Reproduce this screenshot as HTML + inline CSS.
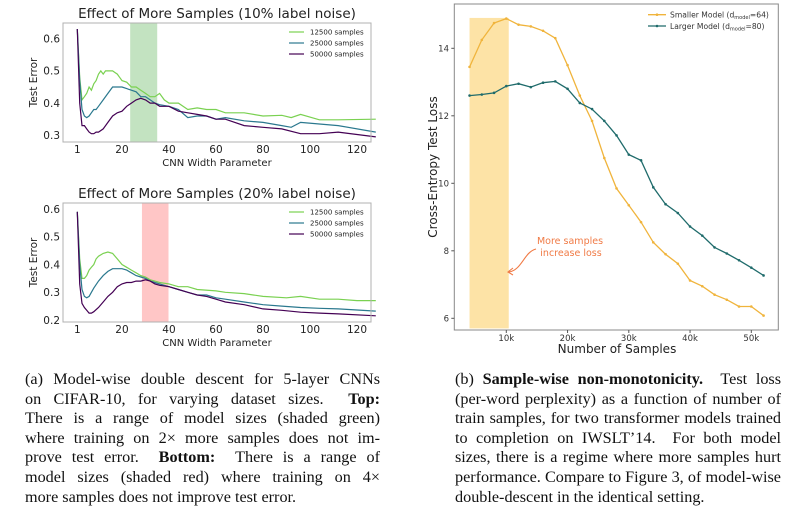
<!DOCTYPE html>
<html><head><meta charset="utf-8">
<style>
body{margin:0;background:#fff;width:796px;height:514px;overflow:hidden;position:relative}
svg{position:absolute;left:0;top:0}
.cap{position:absolute;font-family:"Liberation Serif",serif;font-size:16.2px;line-height:19.6px;text-align:justify;color:#111}
.cap span.l{display:block;text-align-last:justify;white-space:nowrap}
.cap span.e{display:block;white-space:nowrap}
</style></head><body>
<svg id="fig" width="796" height="514" font-family="DejaVu Sans, Liberation Sans, sans-serif"></svg>
<div class="cap" style="left:25px;top:370px;width:355px">
<span class="l">(a) Model-wise double descent for 5-layer CNNs</span>
<span class="l">on CIFAR-10, for varying dataset sizes. &nbsp;<b>Top:</b></span>
<span class="l">There is a range of model sizes (shaded green)</span>
<span class="l">where training on 2× more samples does not im-</span>
<span class="l">prove test error. &nbsp;<b>Bottom:</b> &nbsp;There is a range of</span>
<span class="l">model sizes (shaded red) where training on 4×</span>
<span class="e">more samples does not improve test error.</span>
</div>
<div class="cap" style="left:455px;top:370px;width:326px">
<span class="l">(b) <b>Sample-wise non-monotonicity.</b> &nbsp;Test loss</span>
<span class="l">(per-word perplexity) as a function of number of</span>
<span class="l">train samples, for two transformer models trained</span>
<span class="l">to completion on IWSLT’14. &nbsp;For both model</span>
<span class="l">sizes, there is a regime where more samples hurt</span>
<span class="l">performance. Compare to Figure 3, of model-wise</span>
<span class="e">double-descent in the identical setting.</span>
</div>
<script>
// ---- data: top CNN chart (10% noise)
const topGreenX=[1,2,3,4,5,6,7,8,9,10,11,12,13,14,15,16,17,18,19,20,22,24,26,28,30,32,34,36,38,40,44,48,52,56,60,64,72,80,88,92,96,104,112,128];
const topGreenY=[0.63,0.48,0.41,0.42,0.43,0.45,0.44,0.46,0.47,0.49,0.50,0.49,0.50,0.50,0.50,0.50,0.495,0.49,0.48,0.47,0.465,0.45,0.45,0.44,0.43,0.42,0.42,0.43,0.41,0.40,0.40,0.38,0.385,0.38,0.38,0.37,0.37,0.36,0.362,0.355,0.365,0.348,0.348,0.35];
const topBlueX=[1,2,3,4,5,6,7,8,9,10,12,14,16,18,20,22,24,26,28,30,32,34,36,40,44,48,52,56,60,64,72,80,88,92,96,112,128];
const topBlueY=[0.63,0.47,0.38,0.36,0.355,0.36,0.37,0.38,0.38,0.39,0.41,0.43,0.45,0.45,0.45,0.445,0.44,0.435,0.42,0.42,0.41,0.40,0.395,0.39,0.38,0.355,0.36,0.36,0.35,0.355,0.345,0.34,0.33,0.325,0.34,0.33,0.31];
const topPurpleX=[1,2,3,4,5,6,7,8,9,10,12,14,16,18,20,22,24,26,28,30,32,34,36,40,44,48,52,56,60,64,72,80,88,96,104,112,128];
const topPurpleY=[0.63,0.40,0.33,0.33,0.32,0.31,0.305,0.305,0.31,0.31,0.32,0.34,0.36,0.37,0.375,0.39,0.40,0.41,0.415,0.41,0.40,0.40,0.39,0.39,0.375,0.37,0.365,0.36,0.35,0.35,0.33,0.325,0.32,0.305,0.305,0.31,0.295];
// ---- data: bottom CNN chart (20% noise)
const botGreenX=[1,2,3,4,5,6,7,8,9,10,12,14,16,18,20,22,24,26,28,30,32,34,36,40,44,48,52,60,64,72,80,90,96,104,112,120,128];
const botGreenY=[0.59,0.42,0.35,0.35,0.36,0.38,0.39,0.40,0.42,0.43,0.44,0.445,0.44,0.42,0.40,0.39,0.38,0.37,0.36,0.355,0.345,0.34,0.335,0.33,0.32,0.32,0.31,0.305,0.30,0.295,0.285,0.28,0.285,0.275,0.275,0.27,0.27];
const botBlueX=[1,2,3,4,5,6,7,8,10,12,14,16,18,20,22,24,26,28,30,32,34,36,40,44,48,52,56,60,64,72,80,88,96,104,112,128];
const botBlueY=[0.59,0.40,0.31,0.285,0.28,0.285,0.30,0.315,0.34,0.36,0.375,0.385,0.385,0.385,0.38,0.37,0.36,0.355,0.35,0.34,0.335,0.33,0.32,0.31,0.30,0.29,0.29,0.28,0.275,0.265,0.255,0.25,0.245,0.242,0.24,0.232];
const botPurpleX=[1,2,3,4,5,6,7,8,10,12,14,16,18,20,22,24,26,28,30,32,34,36,40,44,48,52,56,60,64,72,80,88,96,104,112,128];
const botPurpleY=[0.59,0.33,0.26,0.245,0.235,0.225,0.225,0.23,0.245,0.265,0.285,0.30,0.32,0.33,0.335,0.335,0.34,0.34,0.345,0.34,0.33,0.325,0.32,0.31,0.30,0.29,0.285,0.275,0.265,0.255,0.24,0.235,0.228,0.225,0.222,0.215];
const cnnXTicks=[1,20,40,60,80,100,120];
const topYTicks=[0.3,0.4,0.5,0.6];
const botYTicks=[0.2,0.3,0.4,0.5,0.6];
const legendLabels=["12500 samples","25000 samples","50000 samples"];
const topBand=[23.5,35];
const botBand=[28.5,39.8];
// ---- data: right chart
const samplesK=[4,6,8,10,12,14,16,18,20,22,24,26,28,30,32,34,36,38,40,42,44,46,48,50,52];
const smallerLoss=[13.45,14.25,14.75,14.88,14.7,14.65,14.52,14.3,13.5,12.6,11.85,10.75,9.85,9.35,8.85,8.25,7.9,7.62,7.12,6.95,6.7,6.55,6.35,6.35,6.08];
const largerLoss=[12.6,12.63,12.68,12.88,12.95,12.85,12.98,13.02,12.8,12.38,12.2,11.85,11.42,10.85,10.68,9.88,9.38,9.12,8.72,8.45,8.1,7.92,7.72,7.5,7.27];
const rXTicks=[10,20,30,40,50];
const rYTicks=[6,8,10,12,14];
const rBand=[4,10.4];

const NS="http://www.w3.org/2000/svg";
const svg=document.getElementById('fig');
function mk(tag,attrs,parent,text){const e=document.createElementNS(NS,tag);for(const k in attrs)e.setAttribute(k,attrs[k]);if(text!==undefined)e.textContent=text;(parent||svg).appendChild(e);return e;}
const COLS=["#7ad151","#2a788e","#440154"];

function cnnChart(name,top,bottom,y0v,y1v,y0p,y1p,series,yTicks,band,bandColor,title){
  const g=mk('g',{},svg);
  
  
  const xs=v=>77.3+(v-1)*(357-77.3)/119;
  const ys=v=>y0p+(v-y0v)*(y1p-y0p)/(y1v-y0v);
  const b=mk('rect',{x:xs(band[0]),y:top,width:xs(band[1])-xs(band[0]),height:bottom-top,fill:bandColor},g);
  
  
  series.forEach((s,i)=>{
    const p=mk('polyline',{points:s[0].map((x,j)=>xs(x).toFixed(1)+','+ys(s[1][j]).toFixed(1)).join(' '),fill:'none',stroke:COLS[i],'stroke-width':1.2},g);
    
    
  });
  const f=mk('rect',{x:63,y:top,width:308,height:bottom-top,fill:'none',stroke:'#b0b0b0','stroke-width':1},g);
  
  
  cnnXTicks.forEach(t=>{const e=mk('text',{x:xs(t),y:bottom+11,'font-size':10.5,'text-anchor':'middle',fill:'#222'},g,String(t));
    
    });
  yTicks.forEach(t=>{const e=mk('text',{x:60,y:ys(t)+3.8,'font-size':10.5,'text-anchor':'end',fill:'#222'},g,t.toFixed(1));
    
    });
  const xl=mk('text',{x:217,y:bottom+24,'font-size':10,'text-anchor':'middle',fill:'#222'},g,'CNN Width Parameter');
  
  
  const cy=(top+bottom)/2;
  const yl=mk('text',{x:0,y:0,'font-size':10.5,'text-anchor':'middle',fill:'#222',transform:`translate(37,${cy}) rotate(-90)`},g,'Test Error');
  
  
  const ti=mk('text',{x:217,y:top-5,'font-size':13.5,'text-anchor':'middle',fill:'#222'},g,title);
  
  
  legendLabels.forEach((l,i)=>{
    const ly=top+9+i*11;
    const ln=mk('line',{x1:289,x2:304,y1:ly,y2:ly,stroke:COLS[i],'stroke-width':1.2},g);
    
    
    const lt=mk('text',{x:310,y:ly+2.5,'font-size':7,fill:'#222'},g,l);
    
    
  });
}
cnnChart('top-chart-10pct-noise',23,142,0.6,0.3,38.7,135.3,[[topGreenX,topGreenY],[topBlueX,topBlueY],[topPurpleX,topPurpleY]],topYTicks,topBand,'#c3e3c1','Effect of More Samples (10% label noise)');
cnnChart('bottom-chart-20pct-noise',203,322,0.6,0.2,209,320,[[botGreenX,botGreenY],[botBlueX,botBlueY],[botPurpleX,botPurpleY]],botYTicks,botBand,'#ffc6c6','Effect of More Samples (20% label noise)');

// right chart
(function(){
  const g=mk('g',{},svg);
  
  
  const xs=k=>506.3+(k-10)*6.125;
  const ys=v=>48.3+(14-v)*33.75;
  const b=mk('rect',{x:xs(rBand[0]),y:ys(14.9),width:xs(rBand[1])-xs(rBand[0]),height:ys(5.7)-ys(14.9),fill:'#fde3a6'},g);
  
  
  const sers=[[smallerLoss,'#f0b43c','smaller-model-line'],[largerLoss,'#1f6b6b','larger-model-line']];
  sers.forEach(s=>{
    const p=mk('polyline',{points:samplesK.map((k,j)=>xs(k).toFixed(1)+','+ys(s[0][j]).toFixed(1)).join(' '),fill:'none',stroke:s[1],'stroke-width':1.3},g);
    
    
    samplesK.forEach((k,j)=>{const c=mk('circle',{cx:xs(k),cy:ys(s[0][j]),r:1.3,fill:s[1]},g);
      
      });
  });
  const f=mk('rect',{x:454.3,y:4,width:324,height:326,fill:'none',stroke:'#888','stroke-width':1},g);
  
  
  rXTicks.forEach(t=>{
    mk('line',{x1:xs(t),x2:xs(t),y1:330,y2:333,stroke:'#555'},g);
    const e=mk('text',{x:xs(t),y:341,'font-size':8.5,'text-anchor':'middle',fill:'#333'},g,t+'k');
    
    });
  rYTicks.forEach(t=>{
    mk('line',{x1:451.3,x2:454.3,y1:ys(t),y2:ys(t),stroke:'#555'},g);
    const e=mk('text',{x:449,y:ys(t)+3,'font-size':8.5,'text-anchor':'end',fill:'#333'},g,String(t));
    
    });
  const xl=mk('text',{x:617,y:353,'font-size':12,'text-anchor':'middle',fill:'#222'},g,'Number of Samples');
  
  
  const yl=mk('text',{x:0,y:0,'font-size':12,'text-anchor':'middle',fill:'#222',transform:'translate(437,167) rotate(-90)'},g,'Cross-Entropy Test Loss');
  
  
  const items=[['#f0b43c','Smaller Model (d','=64)'],['#1f6b6b','Larger  Model (d','=80)']];
  items.forEach((it,i)=>{
    const ly=14.7+i*11.3;
    const ln=mk('line',{x1:648,x2:666,y1:ly,y2:ly,stroke:it[0],'stroke-width':1.3},g);
    
    
    mk('circle',{cx:657,cy:ly,r:1.3,fill:it[0]},g);
    const t=mk('text',{x:670,y:ly+3,'font-size':7.6,fill:'#333','xml:space':'preserve'},g);
    
    
    mk('tspan',{},t,it[1]);
    mk('tspan',{'font-size':5,dy:1.5},t,'model');
    mk('tspan',{dy:-1.5},t,it[2]);
  });
  const a1=mk('text',{x:570,y:244,'font-size':9.5,'text-anchor':'middle',fill:'#f07a45'},g,'More samples');
  
  
  mk('text',{x:571,y:256,'font-size':9.5,'text-anchor':'middle',fill:'#f07a45'},g,'increase loss');
  const ar=mk('path',{d:'M536,249 C524,252 522,270 509,272 M513,268 L508,272 L513,275',fill:'none',stroke:'#f07a45','stroke-width':1.1},g);
  
  
})();
</script>
</body></html>
